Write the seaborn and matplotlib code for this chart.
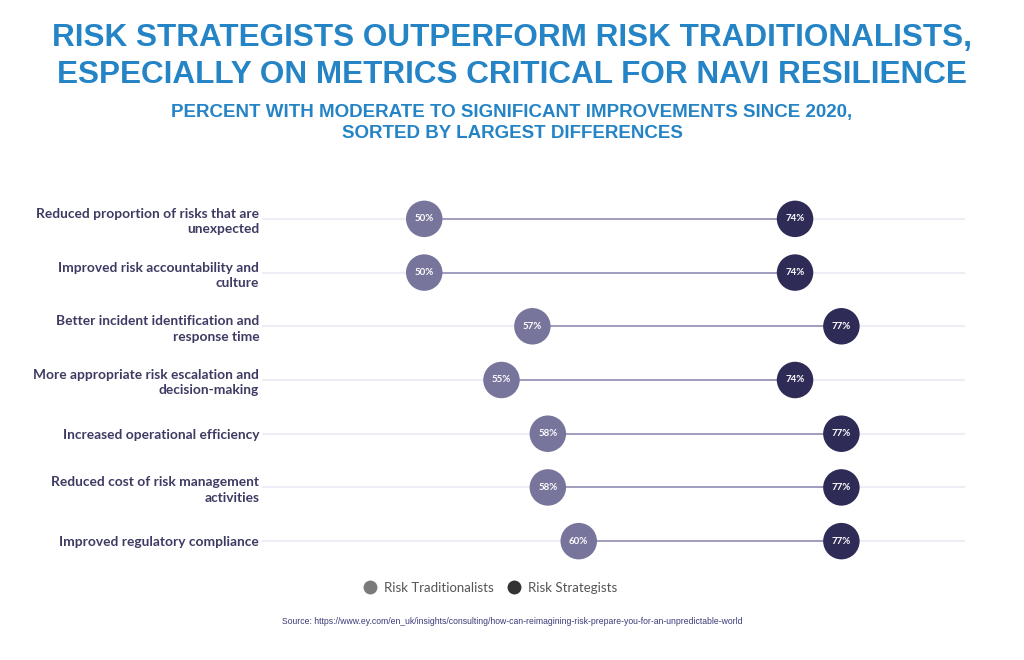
import pandas as pd
import numpy as np
import seaborn as sns
import matplotlib.pyplot as plt
from matplotlib.lines import Line2D

# data
categories = [
    "Reduced proportion of risks that are\nunexpected",
    "Improved risk accountability and\nculture",
    "Better incident identification and\nresponse time",
    "More appropriate risk escalation and\ndecision-making",
    "Increased operational efficiency",
    "Reduced cost of risk management\nactivities",
    "Improved regulatory compliance",
]
traditionalists = [50, 50, 57, 55, 58, 58, 60]
strategists = [74, 74, 77, 74, 77, 77, 77]

trad_color = "#77759C"
strat_color = "#2E2C57"
label_color = "#3D3B63"
title_color = "#2484C6"

df = pd.DataFrame({
    "category": categories * 2,
    "value": traditionalists + strategists,
    "group": ["Risk Traditionalists"] * len(categories) + ["Risk Strategists"] * len(categories),
})
df["pos"] = list(range(len(categories))) * 2

sns.set_theme(style="white")
plt.rcParams['font.family'] = ['Lato', 'DejaVu Sans']

fig = plt.figure(figsize=(10.24, 6.6), dpi=100)
ax = fig.add_axes([262 / 1024, 1 - 568 / 660, (965 - 262) / 1024, (568 - 192) / 660])

xmin, xmax = 39.5, 85
ypos = np.arange(len(categories))

# light grid lines behind each row
ax.hlines(ypos, xmin, xmax, color="#EDEDF7", lw=1.5, zorder=0)
# connector between the two groups
ax.hlines(ypos, traditionalists, strategists, color="#9997B9", lw=1.3, zorder=1)

sns.scatterplot(data=df, x="value", y="pos", hue="group",
                palette={"Risk Traditionalists": trad_color, "Risk Strategists": strat_color},
                s=690, edgecolor="none", legend=False, ax=ax, zorder=3)

for _, r in df.iterrows():
    ax.text(r["value"], r["pos"], f"{r['value']}%", ha="center", va="center",
            color="white", fontsize=7, fontweight="bold", zorder=4)

ax.set_xlim(xmin, xmax)
ax.set_ylim(len(categories) - 0.5, -0.5)
ax.set_yticks(ypos)
ax.set_yticklabels(categories, fontsize=9.9, fontweight="bold", color=label_color,
                   linespacing=1.35)
ax.tick_params(axis="y", length=0, pad=2)
ax.set_xticks([])
ax.set_xlabel("")
ax.set_ylabel("")
for lbl in ax.get_yticklabels():
    lbl.set_horizontalalignment("right")
sns.despine(ax=ax, left=True, bottom=True)

# titles
fig.text(0.5, 1 - 38 / 660, "RISK STRATEGISTS OUTPERFORM RISK TRADITIONALISTS,",
         ha="center", va="center", fontsize=22.7, fontweight="bold", color=title_color,
         family="Liberation Sans")
fig.text(0.5, 1 - 75 / 660, "ESPECIALLY ON METRICS CRITICAL FOR NAVI RESILIENCE",
         ha="center", va="center", fontsize=22.7, fontweight="bold", color=title_color,
         family="Liberation Sans")
fig.text(0.5, 1 - 112 / 660, "PERCENT WITH MODERATE TO SIGNIFICANT IMPROVEMENTS SINCE 2020,",
         ha="center", va="center", fontsize=13.5, fontweight="bold", color=title_color,
         family="Liberation Sans")
fig.text(0.5, 1 - 134 / 660, "SORTED BY LARGEST DIFFERENCES",
         ha="center", va="center", fontsize=13.5, fontweight="bold", color=title_color,
         family="Liberation Sans")

# legend
handles = [
    Line2D([], [], marker="o", ls="", markersize=10, markerfacecolor="#7A7A7A",
           markeredgecolor="none", label="Risk Traditionalists"),
    Line2D([], [], marker="o", ls="", markersize=10, markerfacecolor="#333333",
           markeredgecolor="none", label="Risk Strategists"),
]
fig.legend(handles=handles, loc="center", bbox_to_anchor=(487 / 1024, 1 - 588 / 660),
           ncol=2, frameon=False, fontsize=9.5, handletextpad=0.05, columnspacing=0.5,
           labelcolor="#555555")

fig.text(0.5, 1 - 622 / 660,
         "Source: https://www.ey.com/en_uk/insights/consulting/how-can-reimagining-risk-prepare-you-for-an-unpredictable-world",
         ha="center", va="center", fontsize=6.2, color="#3A3A78", family="Liberation Sans")

fig.savefig("out.png", dpi=100, facecolor="white")
